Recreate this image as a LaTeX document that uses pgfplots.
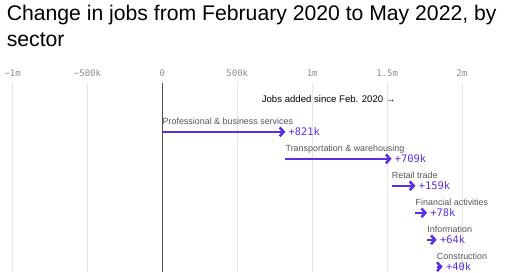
\documentclass[border=0pt]{standalone}
\usepackage{fontspec}
\setmainfont{Liberation Sans}
\setmonofont{DejaVu Sans Mono}
\usepackage{pgfplots}
\pgfplotsset{compat=1.18}
\usetikzlibrary{arrows.meta}
\definecolor{axpurple}{HTML}{5A2EE6}
\definecolor{gridgray}{HTML}{E6E6E6}
\definecolor{ticktext}{HTML}{8C8C8C}
\definecolor{labtext}{HTML}{555555}
\tikzset{
  jobarrow/.style={axpurple, line width=1.5pt, -{Straight Barb[length=3pt,width=6.6pt,line width=1.9pt]}},
  seclab/.style={anchor=base west, inner sep=0pt, text=labtext, font=\fontsize{6.7}{8}\selectfont},
  vallab/.style={anchor=west, inner sep=0pt, xshift=2.3pt, text=axpurple, font=\ttfamily\fontsize{7.8}{9}\selectfont}
}
\begin{document}
\begin{tikzpicture}
\begin{scope}[x=0.75pt,y=-0.75pt]
\path[use as bounding box] (0,0) rectangle (520,272);
\node[anchor=base west, inner sep=0pt, font=\fontsize{15.9}{19}\selectfont] at (6,21) {Change in jobs from February 2020 to May 2022, by};
\node[anchor=base west, inner sep=0pt, font=\fontsize{15.9}{19}\selectfont] at (6,47) {sector};
\end{scope}
\begin{axis}[
  at={(0pt,-62.25pt)}, anchor=north west,
  scale only axis, width=390pt, height=141.75pt,
  xmin=-1080, xmax=2387, ymin=-0.815, ymax=6.185, y dir=reverse,
  axis line style={draw=none},
  ytick=\empty,
  xtick={-1000,-500,0,500,1000,1500,2000},
  xticklabels={−1m,−500k,0,500k,1m,1.5m,2m},
  xticklabel pos=upper,
  major tick length=0pt,
  xmajorgrids,
  grid style={gridgray, line width=0.75pt},
  xticklabel style={font=\ttfamily\fontsize{6.75}{8}\selectfont, text=ticktext, yshift=1pt},
  extra x ticks={0}, extra x tick labels={},
  extra x tick style={grid style={black!70, line width=1.1pt}},
  clip=false,
]
% Jobs added per sector, drawn cumulatively (thousands)
\addplot[jobarrow] coordinates {(0,1) (821,1)};
\addplot[jobarrow] coordinates {(821,2) (1530,2)};
\addplot[jobarrow] coordinates {(1530,3) (1689,3)};
\addplot[jobarrow] coordinates {(1689,4) (1767,4)};
\addplot[jobarrow] coordinates {(1767,5) (1831,5)};
\addplot[jobarrow] coordinates {(1831,6) (1871,6)};

\node[seclab] at (axis cs:0,0.74) {Professional \& business services};
\node[seclab] at (axis cs:821,1.74) {Transportation \& warehousing};
\node[seclab] at (axis cs:1530,2.74) {Retail trade};
\node[seclab] at (axis cs:1689,3.74) {Financial activities};
\node[seclab] at (axis cs:1767,4.74) {Information};
\node[seclab] at (axis cs:1831,5.74) {Construction};

\node[vallab] at (axis cs:821,1) {+821k};
\node[vallab] at (axis cs:1530,2) {+709k};
\node[vallab] at (axis cs:1689,3) {+159k};
\node[vallab] at (axis cs:1767,4) {+78k};
\node[vallab] at (axis cs:1831,5) {+64k};
\node[vallab] at (axis cs:1871,6) {+40k};

\node[anchor=base, inner sep=0pt, font=\fontsize{7.2}{9}\selectfont] at (axis cs:1110,-0.074) {Jobs added since Feb. 2020 →};
\end{axis}
\end{tikzpicture}
\end{document}
